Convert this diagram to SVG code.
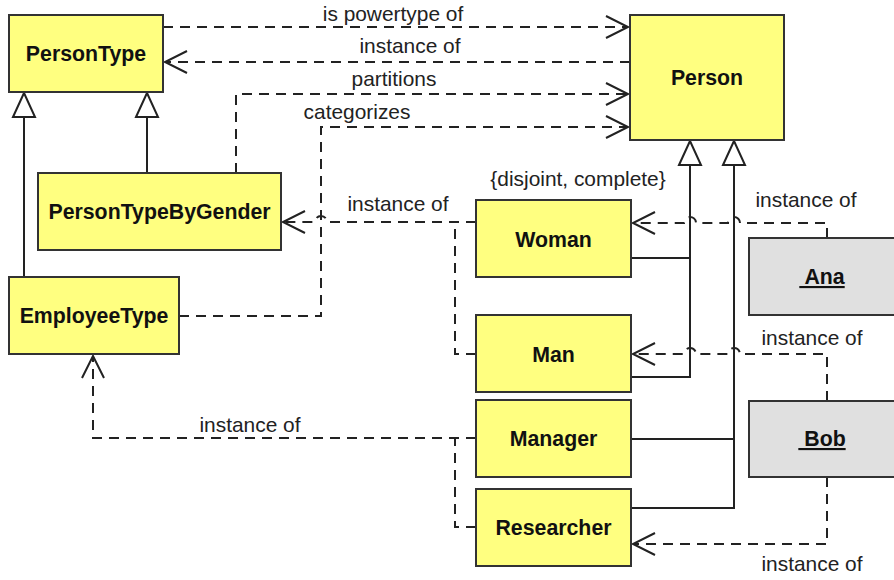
<svg xmlns="http://www.w3.org/2000/svg" width="894" height="580" viewBox="0 0 894 580">
<style>
.cls{fill:#ffff80;stroke:#333;stroke-width:2}
.obj{fill:#e0e0e0;stroke:#333;stroke-width:2}
.nm{font-family:"Liberation Sans",Arial,sans-serif;font-weight:bold;font-size:21.3px;fill:#111;text-anchor:middle}
.u{text-decoration:underline}
.lb{font-family:"Liberation Sans",Arial,sans-serif;font-size:20.9px;fill:#222;text-anchor:middle}
.dep{fill:none;stroke:#222;stroke-width:2;stroke-dasharray:10 7;marker-end:url(#open)}
.dl{fill:none;stroke:#222;stroke-width:2;stroke-dasharray:10 7}
.gen{fill:none;stroke:#222;stroke-width:2}
.genT{fill:none;stroke:#222;stroke-width:2;marker-end:url(#tri)}
</style>
<defs>
<marker id="open" markerUnits="userSpaceOnUse" viewBox="-24 -13 26 26" markerWidth="26" markerHeight="26" refX="0" refY="0" orient="auto" overflow="visible">
<path d="M-22,-11 L0,0 L-22,11" fill="none" stroke="#222" stroke-width="2" stroke-dasharray="none"/>
</marker>
<marker id="tri" markerUnits="userSpaceOnUse" viewBox="-26 -13 28 26" markerWidth="28" markerHeight="26" refX="0" refY="0" orient="auto" overflow="visible">
<path d="M-24,-11 L0,0 L-24,11 Z" fill="#fff" stroke="#222" stroke-width="2"/>
</marker>
</defs>
<g id="connectors">
<path class="dep" d="M163,27 H628"/>
<path class="dep" d="M630,62 H165"/>
<path class="dep" d="M236,173 V94 H628"/>
<path class="dep" d="M179,316 H321 V127 H628"/>
<path class="dep" d="M476,222 H327 A6 6 0 0 0 315 222 H283"/>
<path class="dl" d="M476,354 H455 V222"/>
<path class="dep" d="M827,238 V223 H740 A6 6 0 0 0 728 223 H696 A6 6 0 0 0 684 223 H633"/>
<path class="dep" d="M827,401 V354 H740 A6 6 0 0 0 728 354 H696 A6 6 0 0 0 684 354 H633"/>
<path class="dep" d="M827,477 V544 H633"/>
<path class="dep" d="M476,438 H93 V356"/>
<path class="dl" d="M476,527 H455 V438"/>
<path class="genT" d="M24,277 V93"/>
<path class="genT" d="M147,173 V93"/>
<path class="gen" d="M631,258 H690"/>
<path class="genT" d="M631,377 H690 V141"/>
<path class="gen" d="M631,439 H734"/>
<path class="genT" d="M631,508 H734 V141"/>
<text class="lb" x="393" y="21">is powertype of</text>
<text class="lb" x="410" y="53">instance of</text>
<text class="lb" x="394" y="86">partitions</text>
<text class="lb" x="357" y="119">categorizes</text>
<text class="lb" x="578" y="186">{disjoint, complete}</text>
<text class="lb" x="398" y="211">instance of</text>
<text class="lb" x="806" y="207">instance of</text>
<text class="lb" x="812" y="345">instance of</text>
<text class="lb" x="812" y="571">instance of</text>
<text class="lb" x="250" y="432">instance of</text>
</g>
<g id="PersonType"><rect class="cls" x="9" y="15" width="154" height="77"/><text class="nm" x="86" y="61">PersonType</text></g>
<g id="Person"><rect class="cls" x="630" y="15" width="154" height="125"/><text class="nm" x="707" y="85">Person</text></g>
<g id="PersonTypeByGender"><rect class="cls" x="38" y="173" width="243" height="77"/><text class="nm" x="159.5" y="219">PersonTypeByGender</text></g>
<g id="EmployeeType"><rect class="cls" x="9" y="277" width="170" height="77"/><text class="nm" x="94" y="323">EmployeeType</text></g>
<g id="Woman"><rect class="cls" x="476" y="200" width="155" height="77"/><text class="nm" x="553.5" y="247">Woman</text></g>
<g id="Man"><rect class="cls" x="476" y="315" width="155" height="77"/><text class="nm" x="553.5" y="362">Man</text></g>
<g id="Manager"><rect class="cls" x="476" y="400" width="155" height="77"/><text class="nm" x="553.5" y="446">Manager</text></g>
<g id="Researcher"><rect class="cls" x="476" y="489" width="155" height="77"/><text class="nm" x="553.5" y="535">Researcher</text></g>
<g id="Ana"><rect class="obj" x="749" y="238" width="150" height="77"/><text class="nm u" x="822" y="284" xml:space="preserve"> Ana</text></g>
<g id="Bob"><rect class="obj" x="749" y="401" width="150" height="76"/><text class="nm u" x="822" y="446" xml:space="preserve"> Bob</text></g>
</svg>
